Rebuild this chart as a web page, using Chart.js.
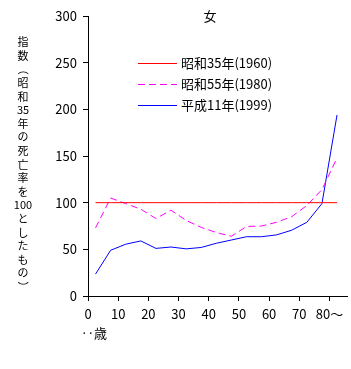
<!DOCTYPE html>
<html>
<head>
<meta charset="utf-8">
<script src="https://cdn.jsdelivr.net/npm/chart.js@4"></script>
<style>
  html, body { margin: 0; padding: 0; background: #fff; }
  #wrap { width: 351px; height: 369px; }
</style>
</head>
<body>
<div id="wrap"><canvas id="c" width="351" height="369"></canvas></div>
<script>
// age group midpoints (5-year bands, last is 80+)
let ages = [2.5, 7.5, 12.5, 17.5, 22.5, 27.5, 32.5, 37.5, 42.5, 47.5, 52.5, 57.5, 62.5, 67.5, 72.5, 77.5, 82.5];
let s1960 = [100, 100, 100, 100, 100, 100, 100, 100, 100, 100, 100, 100, 100, 100, 100, 100, 100];
let s1980 = [73, 105, 99, 93, 83, 92, 81, 73.5, 68, 64, 74.5, 75, 79, 85, 97, 114, 148];
let s1999 = [23.5, 49, 55.5, 59, 51, 52.5, 50.5, 52, 56.5, 60, 63.5, 63.5, 65.5, 70.5, 79, 99, 194];
let seriesLabels = ['昭和35年(1960)', '昭和55年(1980)', '平成11年(1999)'];
let xTicks = [0, 10, 20, 30, 40, 50, 60, 70, 80];
let yTitle = ['指', '数', '（', '昭', '和', '35', '年', 'の', '死', '亡', '率', 'を', '100', 'と', 'し', 'た', 'も', 'の', '）'];

const FONT = '"Noto Sans CJK JP", "Noto Sans", sans-serif';

function pts(vals) {
    return ages.map((a, i) => ({ x: a, y: vals[i] }));
}

// title, vertical y label, x unit and the legend are drawn by hand
const extras = {
    id: 'extras',
    afterDraw(chart) {
        let ctx = chart.ctx;
        ctx.save();
        ctx.fillStyle = '#000';
        ctx.textAlign = 'center';
        ctx.textBaseline = 'middle';

        ctx.font = '13px ' + FONT;
        ctx.fillText('女', 210, 16);

        ctx.font = '11px ' + FONT;
        yTitle.forEach((ch, i) => {
            let y = 42 + i * 13.6;
            if (ch === '（' || ch === '）') {
                // vertical writing: brackets turned a quarter
                ctx.save();
                ctx.translate(23, y);
                ctx.rotate(Math.PI / 2);
                ctx.fillText(ch, 0, 0);
                ctx.restore();
            } else {
                ctx.fillText(ch, 23, y);
            }
        });

        ctx.font = '13px ' + FONT;
        ctx.textAlign = 'left';
        ctx.fillText('‥歳', 81, 333);

        let colors = ['#ff0000', '#ff00ff', '#0000ff'];
        let dashes = [[], [7, 4], []];
        seriesLabels.forEach((lab, i) => {
            let y = 63 + i * 21;
            ctx.strokeStyle = colors[i];
            ctx.lineWidth = 1;
            ctx.setLineDash(dashes[i]);
            ctx.beginPath();
            ctx.moveTo(138, y + 0.5);
            ctx.lineTo(177, y + 0.5);
            ctx.stroke();
            ctx.setLineDash([]);
            ctx.fillText(lab, 181, y);
        });
        ctx.restore();
    }
};

new Chart(document.getElementById('c'), {
    type: 'line',
    data: {
        datasets: [
            { label: seriesLabels[0], data: pts(s1960), borderColor: '#ff0000', borderWidth: 1 },
            { label: seriesLabels[1], data: pts(s1980), borderColor: '#ff00ff', borderWidth: 1, borderDash: [7, 4] },
            { label: seriesLabels[2], data: pts(s1999), borderColor: '#0000ff', borderWidth: 1 }
        ]
    },
    options: {
        responsive: false,
        animation: false,
        elements: { point: { radius: 0 }, line: { tension: 0 } },
        layout: { padding: { top: 16, right: 4, bottom: 0, left: 0 } },
        plugins: { legend: { display: false }, tooltip: { enabled: false } },
        scales: {
            x: {
                type: 'linear',
                min: 0,
                max: 85.8,
                afterFit(s) { s.height = 73; },
                afterBuildTicks(s) { s.ticks = xTicks.map(v => ({ value: v })); },
                border: { color: '#000', width: 1 },
                grid: { drawOnChartArea: false, drawTicks: true, tickLength: 5, color: '#000' },
                ticks: {
                    color: '#000',
                    font: { family: FONT, size: 13 },
                    padding: 5,
                    maxRotation: 0,
                    callback: v => v === 80 ? '80～' : String(v)
                }
            },
            y: {
                min: 0,
                max: 300,
                afterFit(s) { s.width = 88; },
                border: { color: '#000', width: 1 },
                grid: { drawOnChartArea: false, drawTicks: true, tickLength: 5, color: '#000' },
                ticks: {
                    stepSize: 50,
                    color: '#000',
                    font: { family: FONT, size: 13 },
                    padding: 6
                }
            }
        }
    },
    plugins: [extras]
});
</script>
</body>
</html>
